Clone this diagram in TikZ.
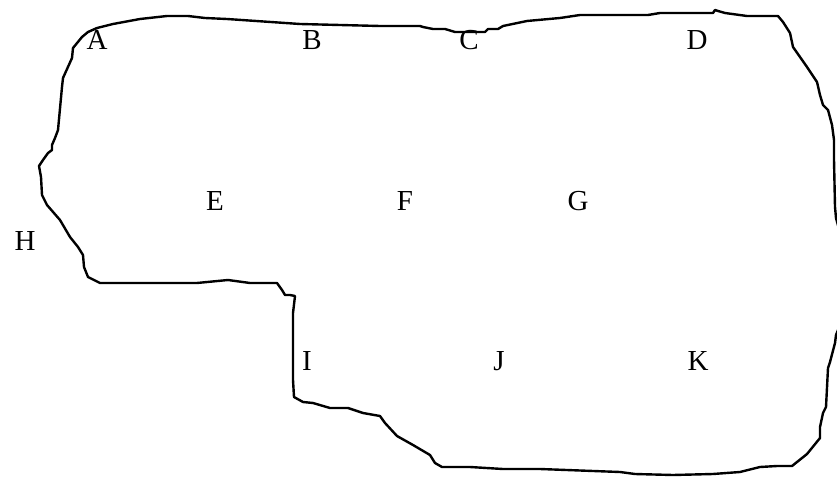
\documentclass[tikz,border=0pt]{standalone}
\usepackage{fontspec}
\setmainfont{Liberation Serif}
\begin{document}
\begin{tikzpicture}[x=1pt,y=-1pt,
  lbl/.style={anchor=base,inner sep=0pt,font=\fontsize{29}{34}\selectfont},
  outline/.style={line width=2.4pt,line join=round,line cap=round}]
\useasboundingbox (0,0) rectangle (837,476);
\fill[white] (0,0) rectangle (837,476);
\begin{scope}
\clip (0,0) rectangle (837,476);
\draw[outline] (97,28) -- (113,24) -- (140,19) -- (167,16) -- (188,16) -- (205,18) -- (227,19) -- (300,24)
 -- (380,26) -- (420,26) -- (423,27) -- (433,29) -- (445,29) -- (455,32) -- (485,32) -- (488,29) -- (498,29)
 -- (503,26) -- (527,21) -- (560,18) -- (580,15) -- (648,15) -- (660,13) -- (713,13) -- (715,10) -- (718,11)
 -- (725,13) -- (747,16) -- (778,16) -- (783,22) -- (790,33) -- (793,47) -- (807,67) -- (817,82) -- (820,95)
 -- (823,105) -- (828,110) -- (832,125) -- (834,140) -- (834,160) -- (835,207) -- (836,218) -- (842,240)
 -- (842,320) -- (836,335) -- (835,343) -- (830,362) -- (828,368) -- (826,407) -- (823,413) -- (820,427)
 -- (820,438) -- (807,454) -- (792,466) -- (777,466) -- (760,467) -- (740,472) -- (713,474) -- (673,475)
 -- (635,474) -- (620,472) -- (540,469) -- (503,469) -- (470,467) -- (442,467) -- (435,463) -- (430,455)
 -- (413,445) -- (397,436) -- (385,423) -- (380,416) -- (363,413) -- (348,408) -- (330,408) -- (313,403)
 -- (303,402) -- (294,397) -- (293,380) -- (293,313) -- (295,296) -- (290,295) -- (285,295) -- (282,290)
 -- (277,283) -- (250,283) -- (228,280) -- (197,283) -- (100,283) -- (88,277) -- (84,267) -- (83,255)
 -- (78,247) -- (70,237) -- (60,220) -- (47,205) -- (42,195) -- (41,177) -- (39,166) -- (43,160)
 -- (48,153) -- (52,150) -- (52,145) -- (55,138) -- (58,130) -- (62,87) -- (63,78) -- (72,58) -- (73,48)
 -- (82,37) -- (88,32) -- cycle;
\end{scope}
\node[lbl] (A) at (97,50) {A};
\node[lbl] (B) at (312,50) {B};
\node[lbl] (C) at (469,50) {C};
\node[lbl] (D) at (697,50) {D};
\node[lbl] (E) at (215,210) {E};
\node[lbl] (F) at (405,210) {F};
\node[lbl] (G) at (578,210) {G};
\node[lbl] (H) at (25,250) {H};
\node[lbl] (I) at (307,370) {I};
\node[lbl] (J) at (499,370) {J};
\node[lbl] (K) at (698,370) {K};
\end{tikzpicture}
\end{document}
